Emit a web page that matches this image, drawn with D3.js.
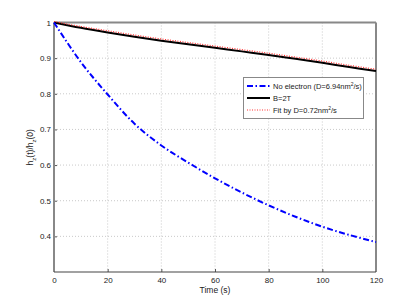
<!DOCTYPE html>
<html>
<head>
<meta charset="utf-8">
<script src="https://cdn.jsdelivr.net/npm/d3@7"></script>
<style>
  body { margin: 0; background: #fff; }
  svg text { font-family: "Liberation Sans", Arial, sans-serif; fill: #222; }
</style>
</head>
<body>
<svg id="chart" width="415" height="306"></svg>
<script>
// data
const times = [0, 10, 20, 30, 40, 50, 60, 70, 80, 90, 100, 110, 120];
const noElectron = [1, 0.889, 0.798, 0.716, 0.655, 0.607, 0.563, 0.523, 0.487, 0.455, 0.427, 0.404, 0.384];
const b2T = [1, 0.985, 0.972, 0.960, 0.949, 0.939, 0.929, 0.919, 0.909, 0.898, 0.887, 0.875, 0.864];
const fitD = [1, 0.986, 0.974, 0.962, 0.951, 0.941, 0.931, 0.921, 0.911, 0.900, 0.889, 0.877, 0.866];
const xTicks = [0, 20, 40, 60, 80, 100, 120];
const yTicks = [0.4, 0.5, 0.6, 0.7, 0.8, 0.9, 1];

const svg = d3.select("#chart");
const plotL = 54, plotR = 376, plotT = 22.5, plotB = 272;

const x = d3.scaleLinear().domain([0, 120]).range([plotL, plotR]);
const y = d3.scaleLinear().domain([0.3, 1]).range([plotB, plotT]);

// grid
const grid = svg.append("g");
grid.selectAll("line.gx").data(xTicks.slice(1, -1)).enter().append("line")
  .attr("x1", d => x(d)).attr("x2", d => x(d))
  .attr("y1", plotT).attr("y2", plotB)
  .attr("stroke", "#bbb").attr("stroke-width", 0.8).attr("stroke-dasharray", "1,2");
grid.selectAll("line.gy").data(yTicks.slice(0, -1)).enter().append("line")
  .attr("x1", plotL).attr("x2", plotR)
  .attr("y1", d => y(d)).attr("y2", d => y(d))
  .attr("stroke", "#bbb").attr("stroke-width", 0.8).attr("stroke-dasharray", "1,2");

// axes
const xAxis = svg.append("g")
  .attr("transform", "translate(0," + plotB + ")")
  .call(d3.axisBottom(x).tickValues(xTicks).tickSize(-3).tickPadding(5).tickFormat(d3.format("d")));
const yAxis = svg.append("g")
  .attr("transform", "translate(" + plotL + ",0)")
  .call(d3.axisLeft(y).tickValues(yTicks).tickSize(-3).tickPadding(3).tickFormat(d => d === 1 ? "1" : d3.format(".1f")(d)));
[xAxis, yAxis].forEach(a => {
  a.select(".domain").remove();
  a.selectAll("line").attr("stroke", "#555");
  a.selectAll("text").style("font-size", "8px").attr("fill", "#222");
});

// box
svg.append("line").attr("x1", plotL).attr("x2", plotR).attr("y1", plotT).attr("y2", plotT)
  .attr("stroke", "#888").attr("stroke-width", 2);
svg.append("line").attr("x1", plotL).attr("x2", plotL).attr("y1", plotT).attr("y2", plotB)
  .attr("stroke", "#888").attr("stroke-width", 2);
svg.append("line").attr("x1", plotR).attr("x2", plotR).attr("y1", plotT).attr("y2", plotB)
  .attr("stroke", "#888").attr("stroke-width", 2);
svg.append("line").attr("x1", plotL).attr("x2", plotR).attr("y1", plotB).attr("y2", plotB)
  .attr("stroke", "#444").attr("stroke-width", 1.2);

// curves
const line = vals => d3.line()
  .x((d, i) => x(times[i]))
  .y(d => y(d))
  .curve(d3.curveCatmullRom)(vals);

svg.append("path").attr("d", line(b2T))
  .attr("fill", "none").attr("stroke", "#000").attr("stroke-width", 2);
svg.append("path").attr("d", line(fitD))
  .attr("fill", "none").attr("stroke", "#ff3030").attr("stroke-width", 1.2).attr("stroke-dasharray", "1,1.5")
  .attr("transform", "translate(0,-1)");
svg.append("path").attr("d", line(noElectron))
  .attr("fill", "none").attr("stroke", "#0000ff").attr("stroke-width", 2).attr("stroke-dasharray", "6,2.5,1.5,2.5");

// legend
const lg = svg.append("g");
lg.append("rect").attr("x", 243.5).attr("y", 77.5).attr("width", 120).attr("height", 41)
  .attr("fill", "#fff").attr("stroke", "#888").attr("stroke-width", 1);
const items = [
  { label: "No electron (D=6.94nm", sup: "2", tail: "/s)", color: "#0000ff", w: 2, dash: "6,2.5,1.5,2.5" },
  { label: "B=2T", color: "#000", w: 2, dash: null },
  { label: "Fit by D=0.72nm", sup: "2", tail: "/s", color: "#ff3030", w: 1.2, dash: "1,1.5" }
];
items.forEach((it, i) => {
  const yy = 86 + i * 12;
  lg.append("line").attr("x1", 247).attr("x2", 270).attr("y1", yy).attr("y2", yy)
    .attr("stroke", it.color).attr("stroke-width", it.w).attr("stroke-dasharray", it.dash);
  const t = lg.append("text").attr("x", 273).attr("y", yy + 2.8).style("font-size", "7.5px");
  t.append("tspan").text(it.label);
  if (it.sup) {
    t.append("tspan").attr("dy", -3).style("font-size", "5px").text(it.sup);
    t.append("tspan").attr("dy", 3).text(it.tail);
  }
});

// axis titles
svg.append("text").attr("x", (plotL + plotR) / 2).attr("y", 293)
  .attr("text-anchor", "middle").style("font-size", "8.5px").text("Time (s)");
const yl = svg.append("text")
  .attr("transform", "translate(33," + ((plotT + plotB) / 2) + ") rotate(-90)")
  .attr("text-anchor", "middle").style("font-size", "8.5px");
yl.append("tspan").text("h");
yl.append("tspan").attr("dy", 3).style("font-size", "6px").text("z");
yl.append("tspan").attr("dy", -3).text("(t)/h");
yl.append("tspan").attr("dy", 3).style("font-size", "6px").text("z");
yl.append("tspan").attr("dy", -3).text("(0)");
</script>
</body>
</html>
